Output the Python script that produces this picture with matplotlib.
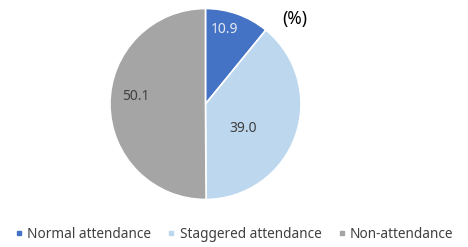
import numpy as np
import matplotlib.pyplot as plt
from matplotlib.lines import Line2D

# === Dati ===
categorie = ["Normal attendance", "Staggered attendance", "Non-attendance"]
valori = [10.9, 39.0, 50.1]
colori = ["#4472C4", "#BDD7EE", "#A5A5A5"]
colori_testo = ["#E6E9F2", "#404040", "#404040"]
# posizione etichette: distanza dal centro e spostamento angolare (gradi)
dist_etichette = [0.81, 0.47, 0.73]
sposta_angolo = [5, -13, -6.5]

plt.rcParams['font.family'] = ['Noto Sans', 'DejaVu Sans']

fig = plt.figure(figsize=(4.68, 2.47), dpi=100)
ax = fig.add_axes([0.2350, 0.1923, 0.4081, 0.7733])

wedges, _ = ax.pie(valori, colors=colori, startangle=90, counterclock=False,
                   radius=1, wedgeprops=dict(edgecolor='white', linewidth=1.2))
ax.set_xlim(-1, 1)
ax.set_ylim(-1, 1)
ax.set_aspect('equal')

# === Etichette valori ===
for w, v, d, s, ct in zip(wedges, valori, dist_etichette, sposta_angolo, colori_testo):
    ang = np.deg2rad((w.theta1 + w.theta2) / 2 + s)
    ax.text(d * np.cos(ang), d * np.sin(ang), f"{v:.1f}",
            ha='center', va='center', fontsize=10, color=ct)

fig.text(0.63, 0.925, "(%)", ha='center', va='center', fontsize=12.5, color='black')

# === Legenda ===
handles = [Line2D([0], [0], marker='s', linestyle='', markersize=3,
                  markerfacecolor=c, markeredgecolor=c) for c in colori]
fig.legend(handles, categorie, loc='center', bbox_to_anchor=(0.5, 0.052), ncol=3,
           frameon=False, fontsize=9.8, handlelength=0.6, handletextpad=0.3,
           columnspacing=1.2, labelcolor='#404040')

plt.savefig("out.png", dpi=100)
